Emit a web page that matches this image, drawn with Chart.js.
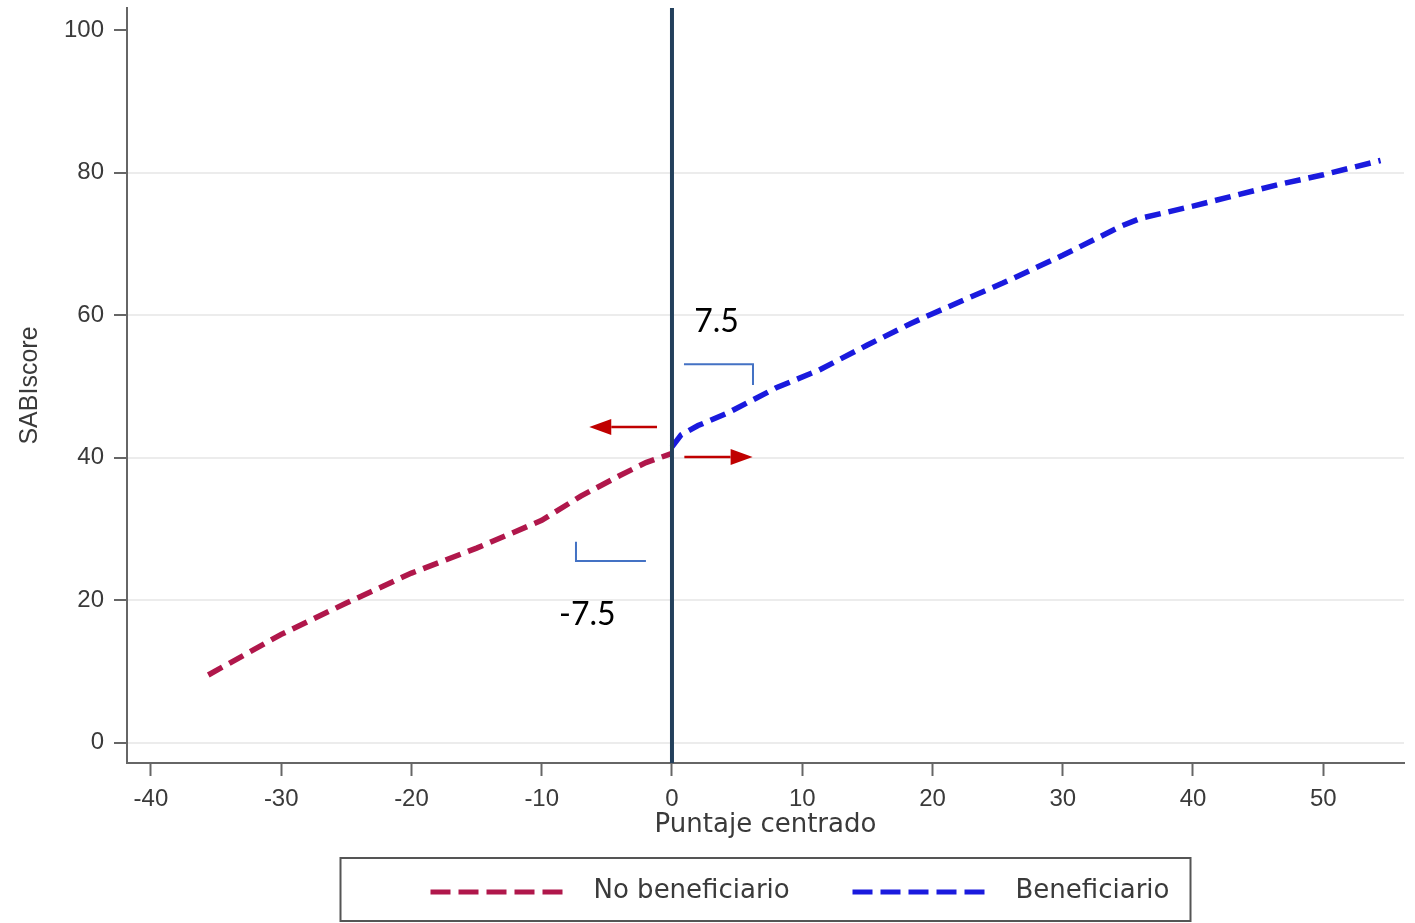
<!DOCTYPE html>
<html><head><meta charset="utf-8">
<script src="https://cdn.jsdelivr.net/npm/chart.js@4.4.0/dist/chart.umd.min.js"></script>
<style>html,body{margin:0;padding:0;background:#fff}#wrap{width:1415px;height:923px;position:relative}</style>
</head><body><div id="wrap"><canvas id="c"></canvas></div>
<script>
// ---- data ----
const seriesLabels = ['No beneficiario', 'Beneficiario'];
const xTicks = [-40, -30, -20, -10, 0, 10, 20, 30, 40, 50];
const yTicks = [0, 20, 40, 60, 80, 100];
const noBenX = [-35.6, -30, -25, -20, -15, -10, -7, -4, -2, 0];
const noBenY = [9.5, 15.2, 19.6, 23.8, 27.3, 31.2, 34.6, 37.5, 39.3, 40.6];
const benX = [0, 0.7, 2, 4.2, 8, 11.3, 15, 18.3, 20, 25.4, 30, 34.5, 36, 40, 46.5, 50, 54.4];
const benY = [41.5, 43.2, 44.5, 46.2, 49.8, 52.3, 55.8, 58.8, 60.2, 64.5, 68.4, 72.5, 73.6, 75.3, 78.3, 79.7, 81.7];
const cutoff = 0;
const xRange = [-41.84, 56.2];
const yRange = [-2.85, 103.1];
const bandLabels = ['7.5', '-7.5'];

const pts = (xs, ys) => xs.map((x, i) => ({x: x, y: ys[i]}));
const RED = '#b0174b', BLUE = '#1a1ade', TXT = '#3a3a3a', AX = '#666';

// annotation placement (data coordinates)
const ann = {
  upperBracket: [[0.92, 53.1], [6.22, 53.1], [6.22, 50.2]],
  lowerBracket: [[-7.37, 28.2], [-7.37, 25.5], [-2.0, 25.5]],
  leftArrow: {from: [-1.15, 44.3], to: [-6.35, 44.3]},
  rightArrow: {from: [0.95, 40.1], to: [6.19, 40.1]},
  upperText: [3.42, 59.1],
  lowerText: [-6.5, 17.9]
};

const annotPlugin = {
  id: 'annot',
  afterDatasetsDraw(chart) {
    const ctx = chart.ctx, sx = chart.scales.x, sy = chart.scales.y;
    const P = p => [sx.getPixelForValue(p[0]), sy.getPixelForValue(p[1])];
    ctx.save();
    ctx.strokeStyle = '#4472c4'; ctx.lineWidth = 2; ctx.setLineDash([]);
    [ann.upperBracket, ann.lowerBracket].forEach(br => {
      ctx.beginPath();
      br.forEach((p, i) => { const q = P(p); i ? ctx.lineTo(q[0], q[1]) : ctx.moveTo(q[0], q[1]); });
      ctx.stroke();
    });
    [ann.leftArrow, ann.rightArrow].forEach(a => {
      const f = P(a.from), t = P(a.to);
      const dir = Math.sign(t[0] - f[0]);
      const head = 22, hh = 8;
      ctx.strokeStyle = '#c00000'; ctx.fillStyle = '#c00000'; ctx.lineWidth = 2.5;
      ctx.beginPath(); ctx.moveTo(f[0], f[1]); ctx.lineTo(t[0] - dir * head, t[1]); ctx.stroke();
      ctx.beginPath(); ctx.moveTo(t[0], t[1]); ctx.lineTo(t[0] - dir * head, t[1] - hh); ctx.lineTo(t[0] - dir * head, t[1] + hh); ctx.closePath(); ctx.fill();
    });
    ctx.fillStyle = '#000'; ctx.font = '32px Lato'; ctx.textAlign = 'center'; ctx.textBaseline = 'middle';
    let q = P(ann.upperText); ctx.fillText(bandLabels[0], q[0], q[1]);
    q = P(ann.lowerText); ctx.fillText(bandLabels[1], q[0], q[1]);
    ctx.restore();
  }
};

const legendPlugin = {
  id: 'boxLegend',
  afterDraw(chart) {
    const ctx = chart.ctx, ca = chart.chartArea;
    const cx = (ca.left + ca.right) / 2;
    const top = ca.bottom + 95, h = 63;
    const left = cx - 425, w = 850;
    ctx.save();
    ctx.strokeStyle = '#555'; ctx.lineWidth = 2; ctx.setLineDash([]);
    ctx.strokeRect(left, top, w, h);
    const midY = top + 34;
    const items = [
      {color: RED, x: left + 90, text: chart.data.datasets[1].label},
      {color: BLUE, x: left + 512, text: chart.data.datasets[2].label}
    ];
    items.forEach(it => {
      ctx.strokeStyle = it.color; ctx.lineWidth = 5; ctx.setLineDash([20, 8]); ctx.lineCap = 'butt';
      ctx.beginPath(); ctx.moveTo(it.x, midY); ctx.lineTo(it.x + 140, midY); ctx.stroke();
      ctx.setLineDash([]);
      ctx.fillStyle = TXT; ctx.font = '26px "DejaVu Sans"'; ctx.textAlign = 'left'; ctx.textBaseline = 'middle';
      ctx.fillText(it.text, it.x + 163, midY - 1);
    });
    ctx.restore();
  }
};

new Chart(document.getElementById('c'), {
  type: 'scatter',
  data: {
    datasets: [
      {label: 'cutoff', data: [{x: cutoff, y: yRange[0]}, {x: cutoff, y: yRange[1]}], showLine: true,
       borderColor: '#23405c', borderWidth: 4, pointRadius: 0, order: 0},
      {label: seriesLabels[0], data: pts(noBenX, noBenY), showLine: true, borderColor: RED, borderWidth: 5.5,
       borderDash: [16, 8], pointRadius: 0, order: 1},
      {label: seriesLabels[1], data: pts(benX, benY), showLine: true, borderColor: BLUE, borderWidth: 5.5,
       borderDash: [16, 8], pointRadius: 0, order: 1}
    ]
  },
  options: {
    responsive: true, maintainAspectRatio: false, animation: false,
    layout: {padding: {left: 0, top: 8, right: 11, bottom: 80}},
    plugins: {legend: {display: false}, tooltip: {enabled: false}},
    scales: {
      x: {
        type: 'linear', min: xRange[0], max: xRange[1],
        afterBuildTicks: s => { s.ticks = xTicks.map(v => ({value: v})); },
        afterFit: s => { s.height = 80; s.paddingLeft = 0; s.paddingRight = 0; },
        ticks: {callback: v => String(v), color: TXT, font: {family: 'Liberation Sans', size: 24}, padding: 9, maxRotation: 0, autoSkip: false},
        grid: {drawOnChartArea: false, tickLength: 13, tickWidth: 2, tickColor: AX},
        border: {color: AX, width: 2},
        title: {display: true, text: 'Puntaje centrado', color: TXT, font: {family: 'DejaVu Sans', size: 26}, padding: {top: 0, bottom: 2}}
      },
      y: {
        type: 'linear', min: yRange[0], max: yRange[1],
        afterBuildTicks: s => { s.ticks = yTicks.map(v => ({value: v})); },
        afterFit: s => { s.width = 127; s.paddingTop = 0; s.paddingBottom = 0; },
        ticks: {callback: v => String(v), color: TXT, font: {family: 'Liberation Sans', size: 24}, padding: 10, autoSkip: false},
        grid: {color: c => (c.tick && c.tick.value === 100) ? 'rgba(0,0,0,0)' : '#ececec', lineWidth: 2,
               tickLength: 13, tickWidth: 2, tickColor: AX},
        border: {color: AX, width: 2},
        title: {display: true, text: 'SABIscore', color: TXT, font: {family: 'Liberation Sans', size: 25}, padding: {top: 15, bottom: 0}}
      }
    }
  },
  plugins: [annotPlugin, legendPlugin]
});
</script></body></html>
